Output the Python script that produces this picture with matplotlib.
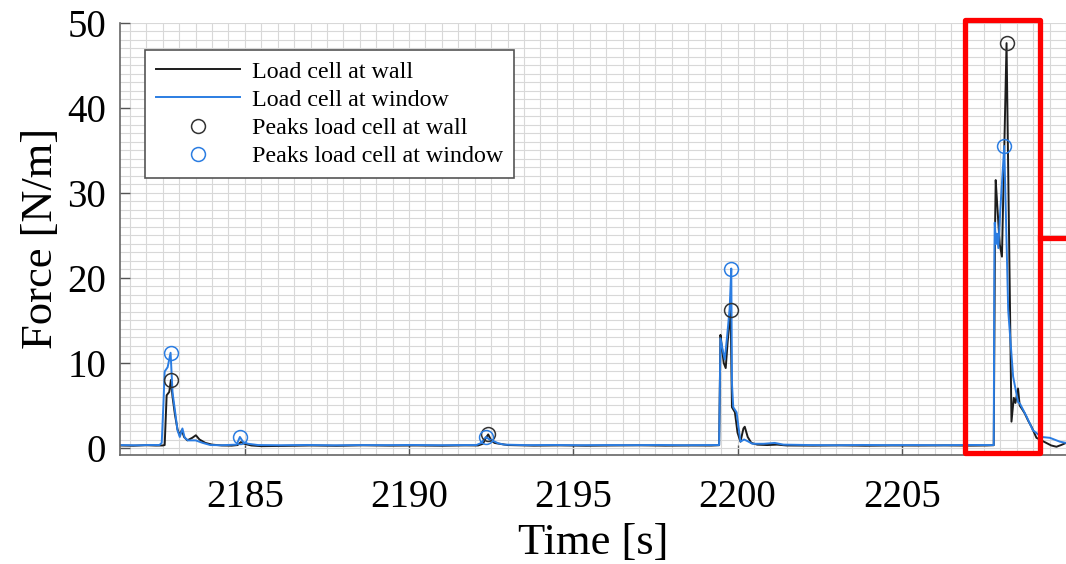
"""Load cell force time series with peaks (wall vs window)."""

import matplotlib.pyplot as plt
from matplotlib.patches import Rectangle
from matplotlib.ticker import MultipleLocator

plt.rcParams["font.family"] = ["Liberation Serif", "DejaVu Serif"]

# Load cell at wall (black)
t_wall = [2181.20, 2181.60, 2182.00, 2182.30, 2182.50, 2182.56, 2182.62, 2182.70,
          2182.75, 2182.80, 2182.87, 2182.95, 2183.02, 2183.08, 2183.15, 2183.25,
          2183.40, 2183.51, 2183.62, 2183.80, 2184.00, 2184.30, 2184.60, 2184.78,
          2184.88, 2184.98, 2185.20, 2185.50, 2186.20, 2187.00, 2187.80, 2188.60,
          2189.40, 2190.20, 2191.00, 2191.70, 2192.10, 2192.25, 2192.34, 2192.41,
          2192.50, 2192.60, 2192.75, 2193.00, 2193.80, 2194.60, 2195.40, 2196.20,
          2197.00, 2197.80, 2198.60, 2199.20, 2199.44, 2199.48, 2199.52, 2199.58,
          2199.64, 2199.70, 2199.79, 2199.83, 2199.92, 2200.00, 2200.09, 2200.18,
          2200.22, 2200.31, 2200.42, 2200.60, 2200.90, 2201.20, 2201.50, 2202.30,
          2203.10, 2203.90, 2204.70, 2205.50, 2206.30, 2207.10, 2207.60, 2207.80,
          2207.84, 2207.86, 2207.90, 2207.98, 2208.05, 2208.12, 2208.19, 2208.34,
          2208.41, 2208.46, 2208.54, 2208.59, 2208.66, 2208.74, 2208.85, 2208.95,
          2209.10, 2209.25, 2209.40, 2209.55, 2209.71, 2209.85, 2210.00]
f_wall = [0.30, 0.27, 0.33, 0.29, 0.30, 0.35, 6.2, 6.6,
          8.0, 6.0, 4.0, 2.2, 1.5, 2.1, 1.3, 0.9,
          1.2, 1.5, 1.0, 0.6, 0.4, 0.30, 0.28, 0.35,
          0.7, 0.5, 0.30, 0.22, 0.25, 0.30, 0.26, 0.32,
          0.28, 0.30, 0.27, 0.31, 0.30, 0.5, 1.2, 1.6,
          0.9, 0.6, 0.5, 0.35, 0.28, 0.31, 0.27, 0.30,
          0.32, 0.28, 0.30, 0.29, 0.33, 13.3, 12.0, 10.0,
          9.4, 12.5, 16.2, 4.8, 4.2, 1.8, 0.75, 2.3,
          2.5, 1.3, 0.6, 0.4, 0.35, 0.40, 0.30, 0.28,
          0.31, 0.27, 0.30, 0.29, 0.31, 0.28, 0.30, 0.33,
          26.0, 31.5, 29.0, 24.0, 22.5, 35.0, 47.6, 3.1,
          5.9, 5.3, 7.0, 5.0, 4.6, 4.1, 3.2, 2.5,
          1.2, 0.9, 0.6, 0.3, 0.15, 0.35, 0.6]

# Load cell at window (blue)
t_win = [2181.20, 2181.70, 2182.10, 2182.40, 2182.47, 2182.52, 2182.56, 2182.65,
         2182.74, 2182.80, 2182.87, 2182.95, 2183.02, 2183.10, 2183.17, 2183.27,
         2183.50, 2183.72, 2183.95, 2184.30, 2184.75, 2184.85, 2184.95, 2185.10,
         2185.40, 2186.10, 2186.90, 2187.70, 2188.50, 2189.30, 2190.10, 2190.90,
         2191.60, 2192.05, 2192.20, 2192.34, 2192.45, 2192.58, 2192.72, 2192.90,
         2193.60, 2194.40, 2195.20, 2196.00, 2196.80, 2197.60, 2198.40, 2199.10,
         2199.44, 2199.48, 2199.55, 2199.61, 2199.68, 2199.76, 2199.81, 2199.83,
         2199.87, 2199.97, 2200.09, 2200.20, 2200.31, 2200.45, 2200.80, 2201.13,
         2201.40, 2202.20, 2203.00, 2203.80, 2204.60, 2205.40, 2206.20, 2207.00,
         2207.60, 2207.80, 2207.82, 2207.83, 2207.87, 2207.90, 2207.94, 2208.00,
         2208.12, 2208.24, 2208.39, 2208.54, 2208.60, 2208.80, 2208.99, 2209.25,
         2209.51, 2209.81, 2210.00]
f_win = [0.35, 0.32, 0.36, 0.35, 0.6, 5.0, 9.0, 9.5,
         11.2, 6.5, 4.5, 2.1, 1.3, 2.3, 1.2, 0.9,
         0.9, 0.6, 0.35, 0.33, 0.4, 1.3, 0.7, 0.5,
         0.35, 0.33, 0.36, 0.32, 0.35, 0.34, 0.36, 0.33,
         0.35, 0.35, 0.6, 1.3, 1.0, 0.8, 0.55, 0.4,
         0.34, 0.36, 0.33, 0.35, 0.34, 0.36, 0.33, 0.35,
         0.35, 12.9, 11.5, 10.4, 13.0, 16.4, 21.1, 7.6,
         4.8, 4.2, 0.75, 1.0, 0.8, 0.5, 0.5, 0.6,
         0.4, 0.35, 0.33, 0.36, 0.34, 0.35, 0.33, 0.36,
         0.35, 0.35, 22.5, 26.5, 24.0, 25.2, 23.5, 28.0,
         35.5, 16.2, 8.4, 5.4, 5.2, 3.7, 2.1, 1.3,
         1.2, 0.75, 0.6]

# Detected peaks
pk_wall_t = [2182.75, 2192.41, 2199.79, 2208.19]
pk_wall_f = [8.0, 1.6, 16.2, 47.6]
pk_win_t = [2182.74, 2184.85, 2192.34, 2199.81, 2208.12]
pk_win_f = [11.2, 1.3, 1.3, 21.1, 35.5]

BLACK = "#1c1c1c"
BLUE = "#2b7de2"

fig = plt.figure(figsize=(10.66, 5.64), dpi=100)
ax = fig.add_axes([120 / 1066, 109 / 564, 946 / 1066, 432.3 / 564])

ax.plot(t_wall, f_wall, color=BLACK, lw=1.4, label="Load cell at wall")
ax.plot(t_win, f_win, color=BLUE, lw=1.4, label="Load cell at window")
ax.plot(pk_wall_t, pk_wall_f, "o", ms=10, mfc="none", mec="#333333", mew=1.1,
        label="Peaks load cell at wall")
ax.plot(pk_win_t, pk_win_f, "o", ms=10, mfc="none", mec=BLUE, mew=1.1,
        label="Peaks load cell at window")

ax.set_xlim(2181.2, 2210.0)
ax.set_ylim(-0.82, 50)
ax.set_xticks([2185, 2190, 2195, 2200, 2205])
ax.set_yticks([0, 10, 20, 30, 40, 50])
ax.xaxis.set_minor_locator(MultipleLocator(0.5))
ax.yaxis.set_minor_locator(MultipleLocator(1))
ax.grid(which="both", color="#d8d8d8", lw=0.8)
ax.set_axisbelow(True)
ax.tick_params(which="major", direction="in", length=7, width=1, color="#555555",
               labelsize=28)
ax.tick_params(axis="x", which="major", pad=17)
ax.tick_params(axis="y", which="major", pad=10)
ax.tick_params(which="minor", length=0)
for s in ("top", "right"):
    ax.spines[s].set_visible(False)
for s in ("left", "bottom"):
    ax.spines[s].set_color("#666666")
    ax.spines[s].set_linewidth(1.2)

ax.set_xlabel("Time [s]", fontsize=32, labelpad=5)
ax.set_ylabel("Force [N/m]", fontsize=32, labelpad=4.5)

leg = ax.legend(loc="upper left", bbox_to_anchor=(0.0264, 0.937), borderaxespad=0,
                fontsize=17.3, fancybox=False, edgecolor="#555555", framealpha=1,
                handlelength=3.5, handletextpad=0.52, labelspacing=0.27,
                borderpad=0.45)
leg.get_frame().set_linewidth(1.2)

# highlight box around the last event
box = Rectangle((2206.92, -0.59), 2209.20 - 2206.92, 50.3 + 0.59, fill=False,
                ec="#ff0000", lw=3.8, joinstyle="round", clip_on=False, zorder=5)
ax.add_patch(box)
ax.plot([2209.20, 2210.5], [24.7, 24.7], color="#ff0000", lw=3.8,
        clip_on=False, zorder=5)

fig.savefig("out.png", dpi=100)
